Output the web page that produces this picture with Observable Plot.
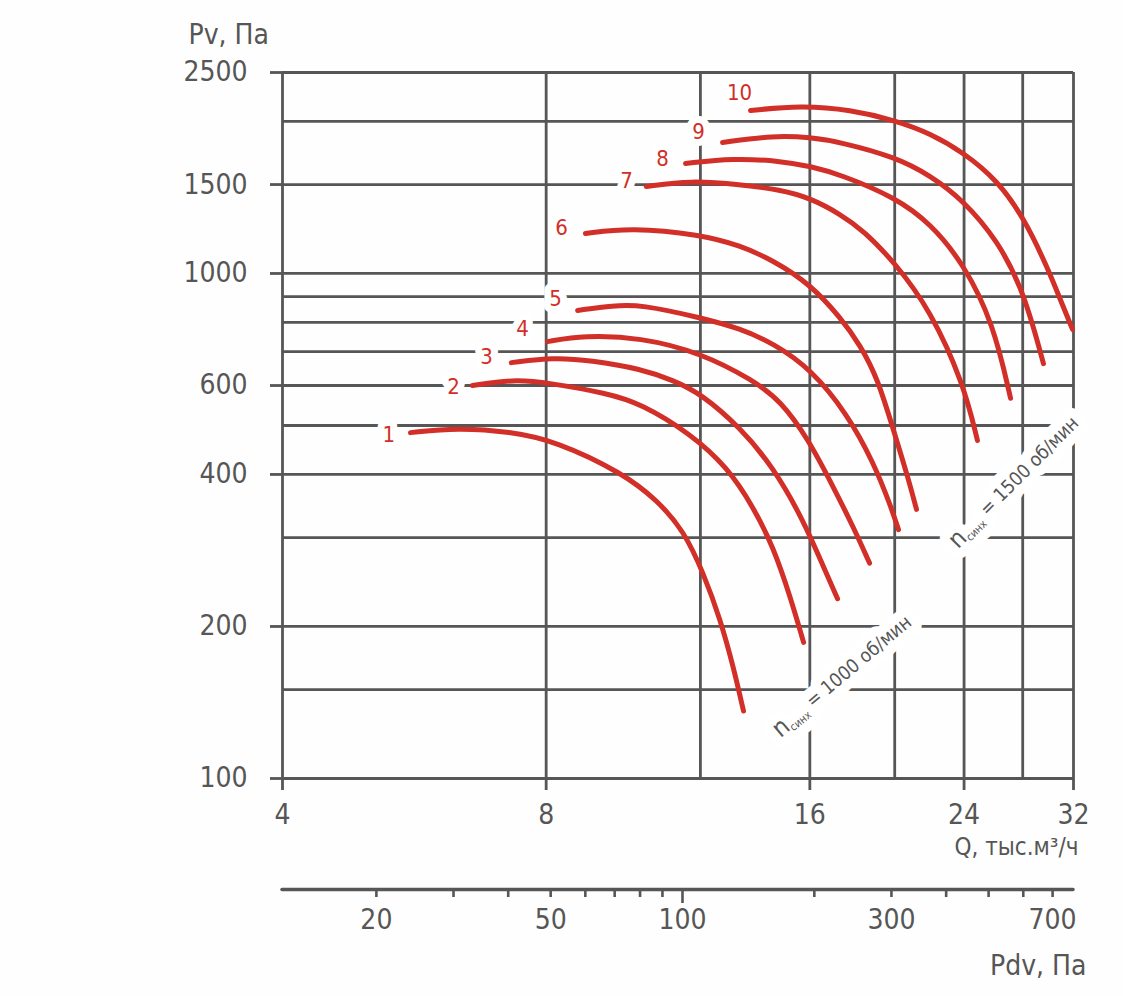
<!DOCTYPE html>
<html><head><meta charset="utf-8">
<script src="https://cdn.jsdelivr.net/npm/d3@7"></script>
<script src="https://cdn.jsdelivr.net/npm/@observablehq/plot@0.6"></script>
<style>
body{margin:0;background:#fefefe;}
#chart{width:1123px;}
svg{display:block;}
</style></head><body><div id="chart"></div>
<script>
// ---- axes ----
const qTicks = [4, 8, 16, 24, 32];
const qGrid = [4, 8, 12, 16, 20, 24, 28, 32];
const pvTicks = [100, 200, 400, 600, 1000, 1500, 2500];
const pvGrid = [100, 150, 200, 300, 400, 500, 600, 700, 800, 900, 1000, 1500, 2000, 2500];
const pdvMinor = [20, 30, 40, 50, 60, 70, 80, 90, 200, 300, 400, 500, 600, 700];
const pdvMajor = [100];
const pdvLabels = [20, 50, 100, 300, 700];
const pdvPerQ2 = 0.763; // Pdv ≈ 0.763·Q² 

// ---- curves: [Q, Pv] ----
const curve1 = [[5.6,484],[6.34,495],[7.28,486],[8.2,466],[9.8,402],[10.72,355],[11.48,310],[12.1,255],[12.65,206],[13.09,166],[13.44,136]];
const curve2 = [[6.59,600],[7.34,617],[8.03,608],[9.4,579],[10.25,553],[11.69,482],[12.89,413],[13.8,344],[14.54,287],[15.21,228],[15.74,186]];
const curve3 = [[7.3,666],[8.16,682],[8.99,673],[10.25,648],[11.18,614],[12,579],[13.33,495],[14.54,413],[15.74,324],[16.59,262],[17.21,227]];
const curve4 = [[8.03,733],[8.83,754],[10.25,747],[12,697],[13.8,614],[14.81,560],[15.9,473],[17.03,377],[17.95,314],[18.72,267]];
const curve5 = [[8.69,845],[9.55,864],[10.25,868],[12,818],[13.33,778],[14.54,727],[16.03,648],[17.67,526],[18.92,422],[19.78,347],[20.2,311]];
const curve6 = [[8.87,1200],[9.99,1233],[12,1194],[13.33,1136],[14.54,1061],[16.03,951],[17.34,818],[18.28,720],[19.12,620],[19.94,489],[20.68,398],[21.18,341]];
const curve7 = [[10.41,1487],[11.69,1528],[13.33,1500],[14.81,1465],[16.03,1410],[17.34,1310],[18.43,1216],[20.04,1047],[21.97,845],[23.96,606],[24.86,467]];
const curve8 = [[11.54,1651],[13.09,1692],[14.81,1670],[16.03,1630],[17.34,1570],[20.04,1414],[21.97,1256],[23.96,1047],[25.93,796],[27.12,566]];
const curve9 = [[12.72,1817],[14.54,1876],[16.03,1860],[17.34,1820],[20.04,1700],[21.97,1563],[23.96,1395],[26.21,1162],[28.06,925],[29.57,663]];
const curve10 = [[13.69,2102],[15.61,2151],[17.81,2110],[20.04,2009],[21.97,1893],[23.96,1736],[26.21,1528],[28.06,1291],[29.89,1028],[31.17,856],[31.92,775]];
const curves = [curve1, curve2, curve3, curve4, curve5, curve6, curve7, curve8, curve9, curve10];
const curveNames = ["1","2","3","4","5","6","7","8","9","10"];
const labelQ  = [5.29, 6.27, 6.84, 7.52, 8.20, 8.33, 9.88, 10.86, 11.94, 13.30];
const labelPv = [480, 597, 682, 778, 892, 1233, 1528, 1689, 1910, 2282];

const rpmValues = ["1000", "1500"];
const rpmQ = [17.48, 27.47];
const rpmPv = [158.5, 384];

// ---- tables ----
const rows = curves.flatMap((pts, i) => pts.map(([q, pv]) => ({q, pv, curve: curveNames[i]})));
const labels = curveNames.map((name, i) => ({name, q: labelQ[i], pv: labelPv[i]}));
const rpm = rpmValues.map((v, i) => ({v: "§" + v, q: rpmQ[i], pv: rpmPv[i]}));

const FONT = "'Liberation Sans Narrow','DejaVu Sans Condensed','Roboto Condensed',Roboto,sans-serif";
const INK = "#565656";
const RED = "#d12f27";

function rpmMarks(d, angle) {
  return [
    Plot.text([d], {x: "q", y: "pv", text: "v", rotate: angle, fill: "white", stroke: "white", strokeWidth: 20, strokeLinejoin: "round", fontSize: 19}),
    Plot.text([d], {x: "q", y: "pv", text: "v", rotate: angle, fill: INK, fontSize: 19})
  ];
}

const main = Plot.plot({
  width: 1123, height: 860,
  marginLeft: 282, marginRight: 50, marginTop: 72, marginBottom: 82,
  style: {fontFamily: FONT, color: INK, background: "transparent", overflow: "visible"},
  x: {type: "log", domain: [4, 32]},
  y: {type: "log", domain: [100, 2500]},
  marks: [
    Plot.ruleY(pvGrid, {stroke: INK, strokeWidth: 2.8, strokeOpacity: 1}),
    Plot.ruleX(qGrid, {stroke: INK, strokeWidth: 2.8, strokeOpacity: 1}),
    Plot.axisY(pvTicks, {tickSize: 12, tickPadding: 23, stroke: INK, strokeWidth: 2.8, strokeOpacity: 1, fontSize: 28, fill: INK, label: null, tickFormat: d => String(d)}),
    Plot.axisX(qTicks, {tickSize: 12, tickPadding: 14, stroke: INK, strokeWidth: 2.8, strokeOpacity: 1, fontSize: 28, fill: INK, label: null, tickFormat: d => String(d)}),
    Plot.line(rows, {x: "q", y: "pv", z: "curve", stroke: RED, strokeWidth: 5, curve: "basis", strokeLinecap: "round"}),
    Plot.text(labels, {x: "q", y: "pv", text: "name", fill: RED, stroke: "white", strokeWidth: 14, fontSize: 22}),
    ...rpmMarks(rpm[0], -40),
    ...rpmMarks(rpm[1], -45),
    Plot.text(["Pv, Па"], {frameAnchor: "top-left", dx: -94, dy: -48, textAnchor: "start", fontSize: 28, fill: INK}),
    Plot.text(["Q, тыс.м³/ч"], {frameAnchor: "bottom-right", dx: 5, dy: 76, textAnchor: "end", fontSize: 24, fill: INK})
  ]
});

// subscript for rpm labels
d3.select(main).selectAll("text").each(function() {
  const t = d3.select(this);
  const s = t.text();
  if (!s.startsWith("§")) return;
  const v = s.slice(1);
  t.text(null);
  t.append("tspan").attr("font-size", 25).text("n");
  t.append("tspan").attr("font-size", 11).attr("dy", "0.3em").text("синх");
  t.append("tspan").attr("dy", "-0.3em").text(" = " + v + " об/мин");
});

const pdv = Plot.plot({
  width: 1123, height: 136,
  marginLeft: 282, marginRight: 50, marginTop: 0, marginBottom: 107,
  style: {fontFamily: FONT, color: INK, background: "transparent", overflow: "visible"},
  x: {type: "log", domain: [pdvPerQ2 * 16, pdvPerQ2 * 1024]},
  y: {domain: [0, 1], axis: null},
  marks: [
    Plot.ruleY([0], {stroke: INK, strokeWidth: 3.5, strokeLinecap: "round"}),
    Plot.axisX(pdvMinor, {tickSize: 8, stroke: INK, strokeWidth: 2.6, strokeOpacity: 1, tickFormat: () => "", label: null}),
    Plot.axisX(pdvMajor, {tickSize: 14, stroke: INK, strokeWidth: 2.6, strokeOpacity: 1, tickFormat: () => "", label: null}),
    Plot.text(pdvLabels, {x: d => d, frameAnchor: "bottom", dy: 39, fontSize: 28, fill: INK, text: d => String(d)}),
    Plot.text(["Pdv, Па"], {frameAnchor: "bottom-right", dx: 13, dy: 85, textAnchor: "end", fontSize: 28, fill: INK})
  ]
});

document.getElementById("chart").append(main, pdv);
</script></body></html>
